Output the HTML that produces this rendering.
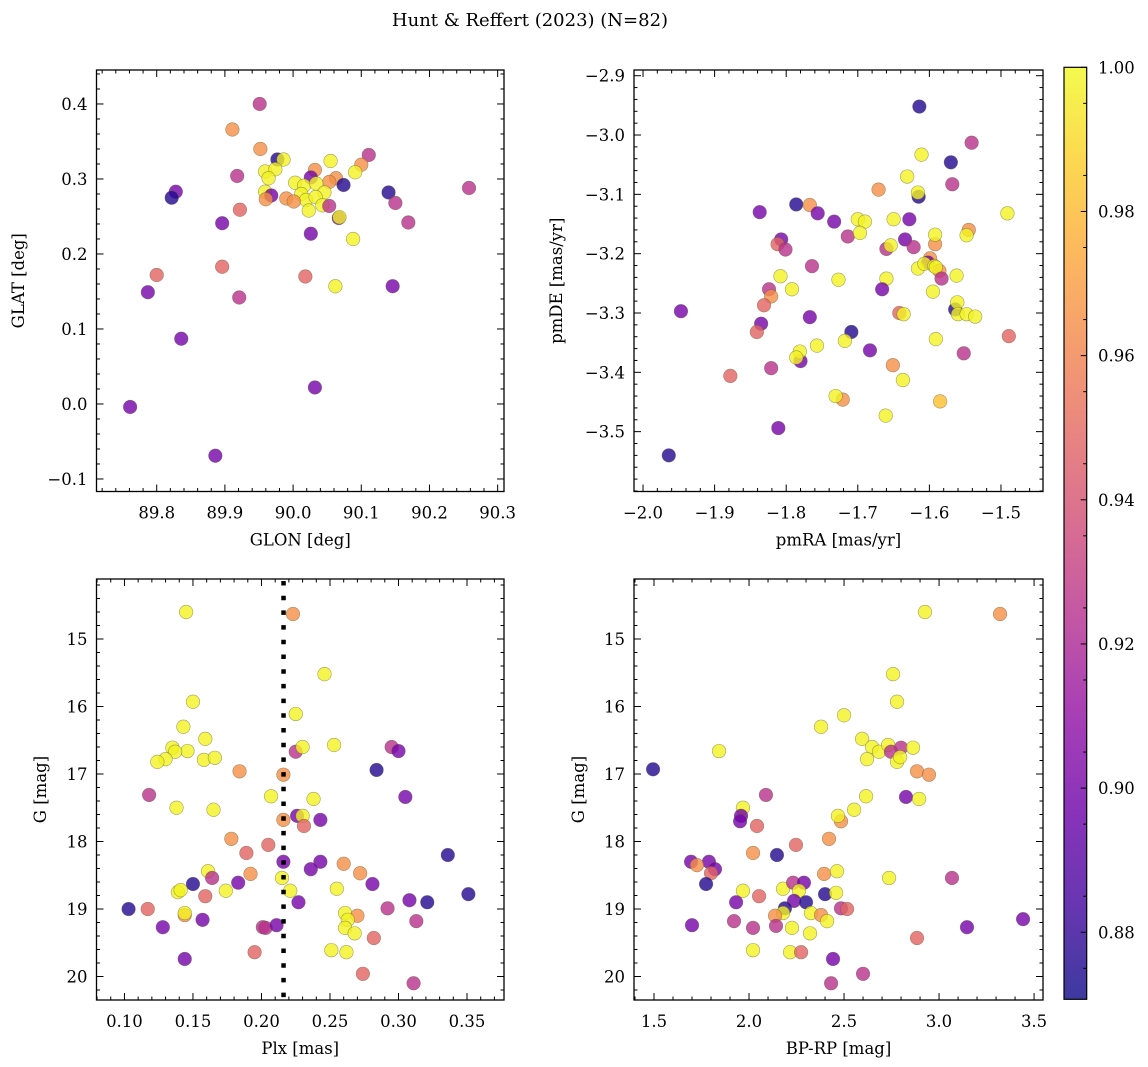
<!DOCTYPE html>
<html><head><meta charset="utf-8"><style>
html,body{margin:0;padding:0;background:#fff;}
svg{display:block;font-family:"DejaVu Serif","Liberation Serif",serif;}
</style></head><body>
<svg id="fig" width="1148" height="1067" viewBox="0 0 1148 1067" xmlns="http://www.w3.org/2000/svg">
<text x="530" y="26" font-size="18" text-anchor="middle" fill="#000">Hunt &amp; Reffert (2023) (N=82)</text>
</svg>
<script>
// ---- data: membership probability codes ----
const glon=[89.951,89.911,89.952,89.977,89.986,90.111,90.055,90.100,90.091,89.959,89.974,89.964,89.918,90.032,90.026,90.063,90.053,90.074,90.003,90.016,90.034,90.046,90.012,90.019,90.033,89.828,89.822,89.959,89.968,89.960,89.990,90.001,90.043,90.053,90.023,90.140,90.150,90.258,89.922,90.067,90.068,89.896,90.169,90.026,90.088,89.800,89.896,90.018,90.062,90.146,89.787,89.921,89.836,90.032,89.761,89.886];
const glat=[0.400,0.366,0.340,0.326,0.326,0.332,0.324,0.319,0.309,0.310,0.313,0.301,0.304,0.312,0.302,0.301,0.296,0.292,0.295,0.291,0.294,0.282,0.280,0.272,0.276,0.283,0.275,0.283,0.278,0.273,0.274,0.270,0.265,0.264,0.258,0.282,0.268,0.288,0.259,0.248,0.249,0.241,0.242,0.227,0.220,0.172,0.183,0.170,0.157,0.157,0.149,0.142,0.087,0.022,-0.004,-0.069];
const probTL=[0.925,0.965,0.965,0.876,0.998,0.925,0.998,0.965,0.998,0.998,0.998,0.998,0.925,0.965,0.900,0.965,0.965,0.876,0.998,0.998,0.998,0.998,0.998,0.998,0.998,0.900,0.876,0.998,0.900,0.965,0.965,0.965,0.998,0.925,0.998,0.876,0.925,0.925,0.948,0.900,0.998,0.900,0.925,0.900,0.998,0.948,0.948,0.948,0.998,0.900,0.900,0.925,0.900,0.900,0.900,0.900];

const pmra=[-1.614,-1.541,-1.611,-1.570,-1.631,-1.568,-1.671,-1.615,-1.616,-1.837,-1.786,-1.767,-1.756,-1.733,-1.700,-1.690,-1.650,-1.628,-1.491,-1.714,-1.697,-1.807,-1.812,-1.801,-1.634,-1.660,-1.654,-1.622,-1.592,-1.592,-1.545,-1.548,-1.599,-1.602,-1.616,-1.607,-1.593,-1.586,-1.591,-1.583,-1.562,-1.764,-1.808,-1.792,-1.727,-1.660,-1.666,-1.595,-1.824,-1.821,-1.831,-1.947,-1.564,-1.561,-1.560,-1.548,-1.536,-1.767,-1.642,-1.636,-1.835,-1.841,-1.709,-1.718,-1.757,-1.683,-1.591,-1.489,-1.552,-1.780,-1.781,-1.786,-1.821,-1.878,-1.651,-1.637,-1.721,-1.731,-1.585,-1.661,-1.811,-1.964];
const pmde=[-2.952,-3.013,-3.033,-3.046,-3.070,-3.083,-3.092,-3.104,-3.097,-3.130,-3.117,-3.118,-3.132,-3.146,-3.142,-3.146,-3.142,-3.142,-3.132,-3.171,-3.165,-3.176,-3.184,-3.193,-3.176,-3.192,-3.186,-3.189,-3.184,-3.168,-3.160,-3.169,-3.208,-3.215,-3.225,-3.217,-3.221,-3.229,-3.223,-3.242,-3.237,-3.221,-3.238,-3.260,-3.244,-3.242,-3.260,-3.264,-3.260,-3.272,-3.287,-3.297,-3.294,-3.282,-3.302,-3.302,-3.306,-3.307,-3.300,-3.302,-3.318,-3.332,-3.332,-3.347,-3.355,-3.363,-3.344,-3.339,-3.368,-3.381,-3.365,-3.375,-3.393,-3.406,-3.388,-3.413,-3.446,-3.440,-3.449,-3.473,-3.494,-3.540];
const probTR=[0.876,0.925,0.998,0.876,0.998,0.925,0.965,0.876,0.998,0.900,0.876,0.965,0.900,0.900,0.998,0.998,0.998,0.900,0.998,0.925,0.998,0.900,0.948,0.925,0.900,0.925,0.998,0.925,0.965,0.998,0.965,0.998,0.965,0.900,0.998,0.998,0.998,0.965,0.998,0.925,0.998,0.925,0.998,0.998,0.998,0.998,0.900,0.998,0.925,0.965,0.948,0.900,0.876,0.998,0.998,0.998,0.998,0.900,0.948,0.998,0.900,0.948,0.876,0.998,0.998,0.900,0.998,0.948,0.925,0.900,0.998,0.998,0.925,0.948,0.965,0.998,0.965,0.998,0.982,0.998,0.900,0.876];

const plx=[0.145,0.223,0.150,0.225,0.143,0.159,0.135,0.146,0.137,0.130,0.124,0.158,0.166,0.225,0.230,0.184,0.216,0.118,0.207,0.138,0.165,0.216,0.226,0.230,0.231,0.178,0.189,0.205,0.216,0.161,0.164,0.150,0.192,0.183,0.215,0.221,0.139,0.141,0.159,0.174,0.227,0.103,0.117,0.144,0.144,0.128,0.157,0.201,0.203,0.211,0.195,0.144,0.246,0.253,0.295,0.300,0.284,0.305,0.238,0.243,0.336,0.243,0.236,0.260,0.272,0.281,0.255,0.351,0.308,0.321,0.292,0.261,0.270,0.263,0.261,0.268,0.313,0.282,0.251,0.262,0.274,0.311];
const gBL=[14.60,14.63,15.93,16.11,16.30,16.48,16.61,16.66,16.67,16.78,16.82,16.79,16.76,16.67,16.60,16.96,17.01,17.31,17.33,17.50,17.53,17.68,17.62,17.62,17.77,17.96,18.17,18.05,18.30,18.44,18.54,18.63,18.48,18.61,18.54,18.73,18.75,18.72,18.81,18.73,18.90,19.00,19.00,19.09,19.06,19.27,19.16,19.27,19.28,19.24,19.64,19.74,15.52,16.57,16.60,16.66,16.94,17.34,17.37,17.68,18.20,18.30,18.41,18.33,18.47,18.63,18.70,18.78,18.87,18.90,18.99,19.06,19.10,19.16,19.28,19.36,19.18,19.43,19.61,19.64,19.96,20.10];
const probBL=[0.998,0.965,0.998,0.998,0.998,0.998,0.998,0.998,0.998,0.998,0.998,0.998,0.998,0.925,0.998,0.965,0.965,0.925,0.998,0.998,0.998,0.965,0.900,0.998,0.948,0.965,0.948,0.948,0.900,0.998,0.925,0.876,0.965,0.900,0.998,0.998,0.998,0.998,0.948,0.998,0.900,0.876,0.948,0.965,0.998,0.900,0.900,0.925,0.925,0.900,0.948,0.900,0.998,0.998,0.925,0.900,0.876,0.900,0.998,0.900,0.876,0.900,0.900,0.965,0.965,0.900,0.998,0.876,0.900,0.876,0.925,0.998,0.965,0.998,0.998,0.998,0.925,0.948,0.998,0.998,0.948,0.925];

const bprp=[2.926,3.321,2.758,2.779,2.500,2.379,2.595,1.842,2.647,2.684,2.732,2.800,2.747,2.863,2.621,2.779,2.795,2.884,2.947,1.495,2.089,2.616,2.826,2.895,1.968,1.958,1.953,2.042,2.553,2.484,2.468,2.421,2.247,2.021,2.147,1.695,1.789,1.726,1.821,1.800,2.395,2.463,1.774,2.737,3.068,1.968,2.053,2.179,2.232,2.289,2.263,2.237,2.300,2.400,2.458,1.932,2.189,2.179,2.137,2.326,2.379,2.411,2.484,2.516,1.700,1.921,2.021,2.142,2.226,2.321,3.442,3.147,2.884,2.021,2.216,2.274,2.442,2.600,2.432];
const gBR=[14.60,14.63,15.52,15.93,16.13,16.30,16.48,16.66,16.60,16.67,16.57,16.61,16.67,16.61,16.78,16.82,16.75,16.96,17.01,16.93,17.31,17.33,17.34,17.37,17.50,17.62,17.70,17.77,17.53,17.70,17.62,17.96,18.05,18.17,18.20,18.30,18.30,18.35,18.41,18.47,18.48,18.44,18.63,18.54,18.54,18.73,18.81,18.70,18.61,18.61,18.73,18.88,18.90,18.78,18.76,18.90,18.99,19.06,19.10,19.06,19.09,19.18,18.99,19.00,19.24,19.18,19.28,19.25,19.28,19.36,19.15,19.27,19.43,19.61,19.64,19.64,19.74,19.96,20.10];
const probBR=[0.998,0.965,0.998,0.998,0.998,0.998,0.998,0.998,0.998,0.998,0.998,0.925,0.925,0.998,0.998,0.998,0.998,0.965,0.965,0.876,0.925,0.998,0.900,0.998,0.998,0.900,0.900,0.948,0.998,0.965,0.998,0.965,0.948,0.965,0.876,0.900,0.900,0.965,0.900,0.948,0.965,0.998,0.876,0.998,0.925,0.998,0.948,0.998,0.925,0.900,0.998,0.900,0.876,0.876,0.998,0.900,0.876,0.998,0.965,0.998,0.965,0.998,0.925,0.948,0.900,0.925,0.925,0.925,0.998,0.998,0.900,0.900,0.948,0.998,0.998,0.948,0.900,0.925,0.925];

const plxLine=[0.2161];
const ticksGlon=[89.8,89.9,90.0,90.1,90.2,90.3];
const ticksGlat=[-0.1,0.0,0.1,0.2,0.3,0.4];
const ticksPmra=[-2.0,-1.9,-1.8,-1.7,-1.6,-1.5];
const ticksPmde=[-3.5,-3.4,-3.3,-3.2,-3.1,-3.0,-2.9];
const ticksPlx=[0.10,0.15,0.20,0.25,0.30,0.35];
const ticksG=[15,16,17,18,19,20];
const ticksBprp=[1.5,2.0,2.5,3.0,3.5];
const ticksCbar=[0.88,0.90,0.92,0.94,0.96,0.98,1.00];

// ---- rendering ----
const NS='http://www.w3.org/2000/svg';
const svg=document.getElementById('fig');
function mk(tag,attrs,parent){const e=document.createElementNS(NS,tag);for(const k in attrs)e.setAttribute(k,attrs[k]);(parent||svg).appendChild(e);return e;}
const CMIN=0.8707,CMAX=1.0;
const plasma=[[13,8,135],[65,4,157],[106,0,168],[143,13,164],[177,42,144],[204,71,120],[225,100,98],[242,132,75],[252,166,54],[252,206,37],[240,249,33]];
function cmap(t){t=Math.max(0,Math.min(1,t));const f=t*10,i=Math.min(9,Math.floor(f)),r=f-i;const a=plasma[i],b=plasma[i+1];
 return 'rgb('+[0,1,2].map(k=>Math.round(a[k]+(b[k]-a[k])*r)).join(',')+')';}
function colorOf(p){return cmap((p-CMIN)/(CMAX-CMIN));}
function fmt(v,d){const s=Math.abs(v).toFixed(d);return (v<-1e-9?'\u2212':'')+s;}

function panel(o){
 const g=mk('g',{});
 
 
 const sx=v=>o.x0+(v-o.xlo)/(o.xhi-o.xlo)*(o.x1-o.x0);
 const sy=v=>o.yinv? o.y0+(v-o.ylo)/(o.yhi-o.ylo)*(o.y1-o.y0) : o.y1-(v-o.ylo)/(o.yhi-o.ylo)*(o.y1-o.y0);
 // points
 const pg=mk('g',{},g);
 
 
 for(let i=0;i<o.xs.length;i++){
  const c=mk('circle',{cx:sx(o.xs[i]).toFixed(2),cy:sy(o.ys[i]).toFixed(2),r:6.8,fill:colorOf(o.ps[i]),'fill-opacity':0.8,stroke:'rgba(90,90,60,0.55)','stroke-width':0.6},pg);
  
  
 }
 if(o.vline){o.vline.forEach(v=>{const l=mk('line',{x1:sx(v),x2:sx(v),y1:o.y0+2,y2:o.y1,stroke:'#000','stroke-width':4.5,'stroke-dasharray':'4.5 10.2'},g);
  
  });}
 // frame
 const fr=mk('rect',{x:o.x0,y:o.y0,width:o.x1-o.x0,height:o.y1-o.y0,fill:'none',stroke:'#000','stroke-width':1.3},g);
 
 
 // ticks
 const tg=mk('g',{stroke:'#000','stroke-width':1},g);
 const near=(a,arr)=>arr.some(b=>Math.abs(a-b)<1e-6);
 o.xt.forEach(v=>{const x=sx(v);mk('line',{x1:x,x2:x,y1:o.y1,y2:o.y1-7},tg);mk('line',{x1:x,x2:x,y1:o.y0,y2:o.y0+7},tg);
  const t=mk('text',{x:x,y:o.y1+27,'font-size':16.5,'text-anchor':'middle',fill:'#000',stroke:'none'},g);t.textContent=fmt(v,o.xd);
  
  });
 o.yt.forEach(v=>{const y=sy(v);mk('line',{x1:o.x0,x2:o.x0+7,y1:y,y2:y},tg);mk('line',{x1:o.x1,x2:o.x1-7,y1:y,y2:y},tg);
  const t=mk('text',{x:o.x0-9,y:y+6,'font-size':16.5,'text-anchor':'end',fill:'#000',stroke:'none'},g);t.textContent=fmt(v,o.yd);
  
  });
 const xl=Math.min(o.xlo,o.xhi),xh=Math.max(o.xlo,o.xhi);
 for(let k=Math.ceil(xl/o.xm-1e-6);k*o.xm<=xh+1e-9;k++){const v=k*o.xm;if(near(v,o.xt))continue;const x=sx(v);
  mk('line',{x1:x,x2:x,y1:o.y1,y2:o.y1-3.5},tg);mk('line',{x1:x,x2:x,y1:o.y0,y2:o.y0+3.5},tg);}
 const yl=Math.min(o.ylo,o.yhi),yh=Math.max(o.ylo,o.yhi);
 for(let k=Math.ceil(yl/o.ym-1e-6);k*o.ym<=yh+1e-9;k++){const v=k*o.ym;if(near(v,o.yt))continue;const y=sy(v);
  mk('line',{x1:o.x0,x2:o.x0+3.5,y1:y,y2:y},tg);mk('line',{x1:o.x1,x2:o.x1-3.5,y1:y,y2:y},tg);}
 // titles
 const xt=mk('text',{x:(o.x0+o.x1)/2,y:o.y1+54,'font-size':16.5,'text-anchor':'middle',fill:'#000'},g);xt.textContent=o.xlabel;
 
 
 const cy=(o.y0+o.y1)/2;
 const yt=mk('text',{x:o.ylx,y:cy,'font-size':16.5,'text-anchor':'middle',fill:'#000',transform:'rotate(-90 '+o.ylx+' '+cy+')'},g);yt.textContent=o.ylabel;
 
 
}

panel({name:'glon-glat-panel',x0:96.5,x1:504,y0:70,y1:491.5,xlo:89.7117,xhi:90.3093,ylo:-0.1167,yhi:0.4453,
 xs:glon,ys:glat,ps:probTL,xt:ticksGlon,yt:ticksGlat,xm:0.02,ym:0.02,xd:1,yd:1,xlabel:'GLON [deg]',ylabel:'GLAT [deg]',ylx:24});
panel({name:'pm-panel',x0:634,x1:1043,y0:70,y1:491.5,xlo:-2.0126,xhi:-1.4413,ylo:-3.6009,yhi:-2.8904,
 xs:pmra,ys:pmde,ps:probTR,xt:ticksPmra,yt:ticksPmde,xm:0.02,ym:0.02,xd:1,yd:1,xlabel:'pmRA [mas/yr]',ylabel:'pmDE [mas/yr]',ylx:562});
panel({name:'plx-g-panel',x0:96.5,x1:504,y0:579,y1:1000,xlo:0.0796,xhi:0.377,ylo:14.111,yhi:20.348,yinv:true,
 xs:plx,ys:gBL,ps:probBL,xt:ticksPlx,yt:ticksG,xm:0.01,ym:0.2,xd:2,yd:0,xlabel:'Plx [mas]',ylabel:'G [mag]',ylx:46,vline:plxLine});
panel({name:'cmd-panel',x0:634,x1:1043,y0:579,y1:1000,xlo:1.3947,xhi:3.547,ylo:14.111,yhi:20.348,yinv:true,
 xs:bprp,ys:gBR,ps:probBR,xt:ticksBprp,yt:ticksG,xm:0.1,ym:0.2,xd:1,yd:0,xlabel:'BP-RP [mag]',ylabel:'G [mag]',ylx:584});

// colorbar
(function(){
 const cx0=1064,cx1=1086.7,cy0=67.3,cy1=999.3;
 const defs=mk('defs',{});const lg=mk('linearGradient',{id:'plasmaGrad',x1:0,y1:1,x2:0,y2:0},defs);
 for(let i=0;i<=20;i++){mk('stop',{offset:(i/20),'stop-color':cmap(i/20)},lg);}
 const g=mk('g',{});
 
 
 mk('rect',{x:cx0,y:cy0,width:cx1-cx0,height:cy1-cy0,fill:'url(#plasmaGrad)','fill-opacity':0.8},g);
 mk('rect',{x:cx0,y:cy0,width:cx1-cx0,height:cy1-cy0,fill:'none',stroke:'#000','stroke-width':1.2},g);
 const sy=v=>cy1-(v-CMIN)/(CMAX-CMIN)*(cy1-cy0);
 ticksCbar.forEach(v=>{const y=sy(v);mk('line',{x1:cx1,x2:cx1-6,y1:y,y2:y,stroke:'#000','stroke-width':1},g);
  const t=mk('text',{x:1098,y:y+6,'font-size':16.5,fill:'#000'},g);t.textContent=v.toFixed(2);
  
  });
 for(let v=0.875;v<1.0;v+=0.01){const y=sy(v);mk('line',{x1:cx1,x2:cx1-3.5,y1:y,y2:y,stroke:'#000','stroke-width':1},g);}
})();
</script>
</body></html>
